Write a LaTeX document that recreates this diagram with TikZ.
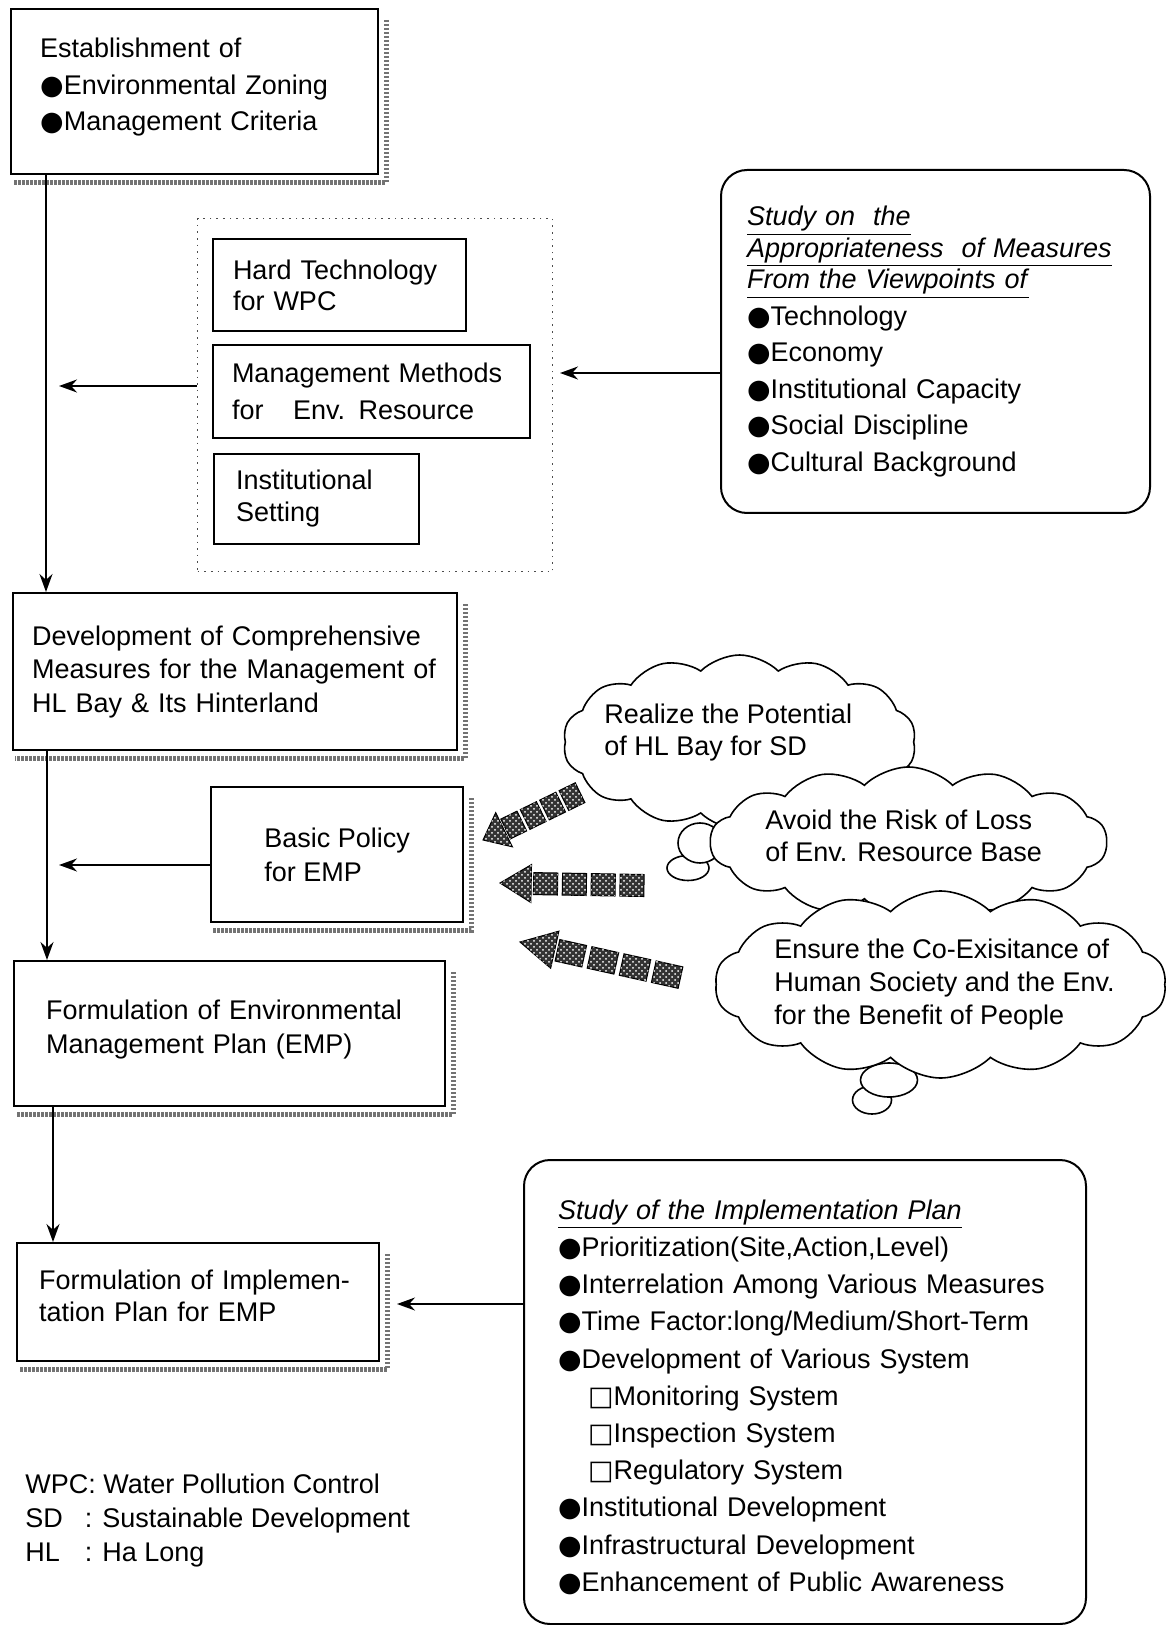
\documentclass[tikz,border=0pt]{standalone}
\usepackage{fontspec}
\setmainfont{Liberation Sans}
\newfontfamily\symfont{DejaVu Sans}
\usetikzlibrary{arrows.meta,shapes.symbols,shapes.geometric,patterns}
\newcommand\bul{{\symfont\char"25CF}}
\newcommand\sqb{{\symfont\char"25A1}}
\newcommand\myfs[1]{\fontsize{13.5pt}{#1}\selectfont}
\newcommand\shadowof[1]{\draw[shd] ([shift={(7,12)}]#1.north east) -- ([shift={(7,7)}]#1.south east) -- ([shift={(3,7)}]#1.south west);}
\begin{document}
\begin{tikzpicture}[x=0.5pt,y=-0.5pt,
 bx/.style={draw, line width=1.2pt, anchor=north west, inner sep=0pt, align=left},
 ibx/.style={draw, line width=1pt, anchor=north west, inner sep=0pt, align=left},
 rbx/.style={draw, line width=1pt, rounded corners=13pt, anchor=north west, inner sep=0pt, align=left},
 shd/.style={line width=2.4pt, black!55, dash pattern=on 1.2pt off 0.8pt},
 conn/.style={line width=0.8pt, -{Stealth[length=9pt,width=6.5pt]}},
 cld/.style={cloud, cloud puffs=14, cloud puff arc=90, cloud ignores aspect, draw, fill=white, line width=0.8pt, inner sep=0pt},
 bub/.style={ellipse, draw, fill=white, line width=0.8pt, inner sep=0pt},
 txt/.style={anchor=north west, align=left, inner sep=0pt},
 grpbox/.style={draw, black!70, line width=0.7pt, dash pattern=on 0.8pt off 2.5pt, anchor=north west, inner sep=0pt},
 hf/.style={fill=black!80, draw=black, line width=0.5pt, postaction={pattern=crosshatch dots, pattern color=white}},
 harrow/.pic={
   \path[hf] (0,0) -- (26,-19) -- (26,19) -- cycle;
   \foreach \k in {0,1,2,3}{\path[hf] ({28+\k*24},-11) rectangle ({48+\k*24},11);}
 }]
\useasboundingbox (0,0) rectangle (1167,1625);

% top box
\node[bx, minimum width=183.5pt, minimum height=82.5pt, text width=154.5pt, font=\myfs{18.25pt}] (est) at (10,8)
 {Establishment of\\\bul Environmental Zoning\\\bul Management Criteria\rule[-7pt]{0pt}{0pt}};
\shadowof{est}

% group of measures
\node[grpbox, minimum width=177.5pt, minimum height=176.5pt] (grp) at (197,218) {};
\node[ibx, minimum width=126.5pt, minimum height=46pt, text width=106.5pt, font=\myfs{15.5pt}] (ht) at (212,238)
 {Hard Technology\\for WPC};
\node[ibx, minimum width=158.5pt, minimum height=46.5pt, text width=139.5pt, font=\myfs{18.5pt}] (mm) at (212,344)
 {\mbox{Management Methods}\\for\hspace{1.1em}Env. Resource};
\node[ibx, minimum width=102.5pt, minimum height=45pt, text width=80.5pt, font=\myfs{16pt}] (is) at (213,453)
 {Institutional\\Setting};

% study on appropriateness
\node[rbx, minimum width=214.5pt, minimum height=171.5pt, text width=188.5pt, font=\myfs{18.25pt}] (sam) at (720,169)
 {\underline{\textit{Study on\ \ the}}\\[-2.5pt]
  \underline{\textit{Appropriateness\ \ of Measures}}\\[-2.5pt]
  \underline{\textit{From the Viewpoints of}}\\
  \bul Technology\\
  \bul Economy\\
  \bul Institutional Capacity\\
  \bul Social Discipline\\
  \bul Cultural Background};

% development box
\node[bx, minimum width=222pt, minimum height=78.5pt, text width=203pt, font=\myfs{16.75pt}] (dev) at (12,592)
 {Development of Comprehensive\\\mbox{Measures for the Management of}\\HL Bay \& Its Hinterland};
\shadowof{dev}

% basic policy
\node[bx, minimum width=126pt, minimum height=67.5pt, font=\myfs{17pt}] (bp) at (210,786)
 {Basic Policy\\for EMP};
\shadowof{bp}

% formulation EMP
\node[bx, minimum width=215.5pt, minimum height=72.5pt, text width=183.5pt, font=\myfs{17pt}] (femp) at (13,960)
 {Formulation of Environmental\\Management Plan (EMP)\rule[-7pt]{0pt}{0pt}};
\shadowof{femp}

% formulation implementation
\node[bx, minimum width=181pt, minimum height=59pt, text width=159pt, font=\myfs{16pt}] (fip) at (16,1242)
 {Formulation of Implemen-\\tation Plan for EMP\rule[-6pt]{0pt}{0pt}};
\shadowof{fip}

% study implementation plan
\node[rbx, minimum width=281pt, minimum height=232pt, text width=247pt, font=\myfs{18.6pt}] (sip) at (523,1159)
 {\rule{0pt}{15pt}\underline{\textit{Study of the Implementation Plan}}\\
  \bul Prioritization(Site,Action,Level)\\
  \mbox{\bul Interrelation Among Various Measures}\\
  \mbox{\bul Time Factor:long/Medium/Short-Term}\\
  \bul Development of Various System\\
  \hspace*{15pt}\sqb Monitoring System\\
  \hspace*{15pt}\sqb Inspection System\\
  \hspace*{15pt}\sqb Regulatory System\\
  \bul Institutional Development\\
  \bul Infrastructural Development\\
  \bul Enhancement of Public Awareness};

% legend
\node[txt, font=\myfs{17pt}] (leg) at (25,1474)
 {WPC: Water Pollution Control\\\makebox[2.2em][l]{SD}: Sustainable Development\\\makebox[2.2em][l]{HL}: Ha Long};

% clouds and bubbles
\node[bub, minimum width=21pt, minimum height=12.5pt] (bb) at (688,868) {};
\node[bub, minimum width=22pt, minimum height=20pt] (ba) at (700,843) {};
\node[cld, minimum width=176.5pt, minimum height=87pt] (c1) at (739.5,742) {};
\node[txt, font=\myfs{16pt}] (t1) at (604,704) {Realize the Potential\\of HL Bay for SD};
\node[cld, minimum width=198.5pt, minimum height=75pt] (c2) at (908.5,842) {};
\node[txt, font=\myfs{16pt}] (t2) at (765,810) {Avoid the Risk of Loss\\of Env. Resource Base};
\node[bub, minimum width=19.5pt, minimum height=14pt] (bd) at (872,1100) {};
\node[bub, minimum width=28.5pt, minimum height=17pt] (bc) at (889,1080) {};
\node[cld, minimum width=225.5pt, minimum height=93.5pt] (c3) at (940.5,984.5) {};
\node[txt, font=\myfs{16.5pt}] (t3) at (774,939) {Ensure the Co-Exisitance of\\Human Society and the Env.\\for the Benefit of People};

% hatched arrows
\pic[rotate=26, xscale=0.9] at (483,840) {harrow};
\pic[rotate=-1, xscale=1.2] at (500,883) {harrow};
\pic[rotate=-12.5, xscale=1.37] at (520,942) {harrow};

% connectors
\draw[conn] ([xshift=18pt]est.south west) -- ([xshift=17pt]dev.north west);
\draw[conn] ([xshift=17.5pt]dev.south west) -- ([xshift=17pt]femp.north west);
\draw[conn] ([xshift=20pt]femp.south west) -- ([xshift=18.5pt]fip.north west);
\coordinate (tA) at (59,386);
\draw[conn] (grp.west |- tA) -- (tA);
\coordinate (tB) at (560,373);
\draw[conn] (sam.west |- tB) -- (tB);
\coordinate (tC) at (59,865);
\draw[conn] (bp.west |- tC) -- (tC);
\coordinate (tD) at (397,1304);
\draw[conn] (sip.west |- tD) -- (tD);
\end{tikzpicture}
\end{document}
